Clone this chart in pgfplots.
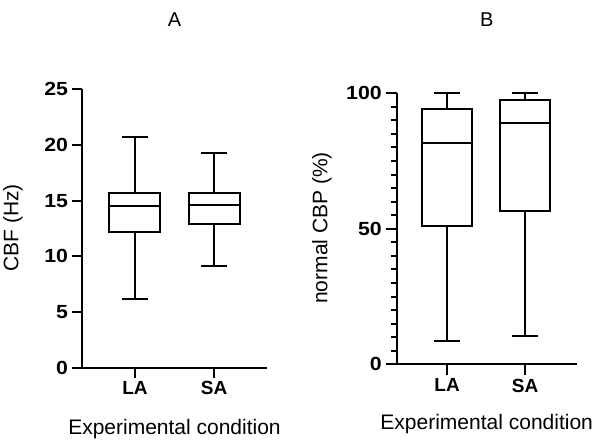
\documentclass[border=0pt]{standalone}
\usepackage{fontspec}
\setmainfont{Liberation Sans}
\usepackage{pgfplots}
\pgfplotsset{compat=1.18}

\pgfplotsset{
  prismbox/.style={
    scale only axis,
    axis x line*=bottom, axis y line*=left,
    axis line style={line width=2pt},
    every tick/.style={black,line width=2pt},
    tick align=outside,
    xtick={1,2}, xticklabels={LA,SA},
    /pgf/number format/assume math mode=true,
    tick label style={font=\bfseries\fontsize{19}{19}\selectfont},
    yticklabel style={xscale=1.12},
    label style={font=\fontsize{21}{21}\selectfont},
    unbounded coords=jump,
    clip=false,
  },
  bx/.style={black,line width=2pt,mark=none,line join=miter},
}

\begin{document}
\begin{tikzpicture}
\path[use as bounding box] (0,0) rectangle (597pt,442pt);

% panel A
\begin{axis}[prismbox,
  at={(82pt,74pt)}, anchor=south west,
  width=185pt, height=279pt,
  xmin=0.33, xmax=2.67, ymin=0, ymax=25,
  ytick={0,5,...,25},
  major tick length=10pt,
  title={A}, title style={at={(axis description cs:0.5,1.204)},anchor=base,
    font=\fontsize{20}{20}\selectfont},
  xlabel={Experimental condition},
  xlabel style={at={(axis description cs:0.5,-0.240)},anchor=base},
  ylabel={CBF (Hz)},
  ylabel style={at={(axis description cs:-0.373,0.502)},anchor=center,rotate=0}]
% LA: whiskers 6.15 / 20.7, box 12.15 / 15.7, median 14.55
\addplot[bx] coordinates {(1,15.7) (1,20.7) (nan,nan) (0.835,20.7) (1.165,20.7)
  (nan,nan) (1,12.15) (1,6.15) (nan,nan) (0.835,6.15) (1.165,6.15)};
\addplot[bx,fill=white] coordinates {(0.6775,12.15) (1.3225,12.15) (1.3225,15.7) (0.6775,15.7)} -- cycle;
\addplot[bx] coordinates {(0.6775,14.55) (1.3225,14.55)};
% SA: whiskers 9.14 / 19.23, box 12.87 / 15.65, median 14.6
\addplot[bx] coordinates {(2,15.65) (2,19.23) (nan,nan) (1.835,19.23) (2.165,19.23)
  (nan,nan) (2,12.87) (2,9.14) (nan,nan) (1.835,9.14) (2.165,9.14)};
\addplot[bx,fill=white] coordinates {(1.6775,12.87) (2.3225,12.87) (2.3225,15.65) (1.6775,15.65)} -- cycle;
\addplot[bx] coordinates {(1.6775,14.6) (2.3225,14.6)};
\end{axis}

% panel B
\begin{axis}[prismbox,
  at={(396.7pt,77.7pt)}, anchor=south west,
  width=180pt, height=271pt,
  xmin=0.355, xmax=2.66, ymin=0, ymax=100,
  ytick={0,50,100}, minor ytick={5,10,...,95},
  major tick length=11pt, minor tick length=6pt,
  title={B}, title style={at={(axis description cs:0.5,1.225)},anchor=base,
    font=\fontsize{20}{20}\selectfont},
  xlabel={Experimental condition},
  xlabel style={at={(axis description cs:0.5,-0.242)},anchor=base},
  ylabel={normal CBP (\%)},
  ylabel style={at={(axis description cs:-0.415,0.503)},anchor=center,rotate=0}]
% LA: whiskers 8.6 / 100, box 51.0 / 94.2, median 81.8
\addplot[bx] coordinates {(1,94.2) (1,100) (nan,nan) (0.835,100) (1.165,100)
  (nan,nan) (1,51.0) (1,8.6) (nan,nan) (0.835,8.6) (1.165,8.6)};
\addplot[bx,fill=white] coordinates {(0.6825,51.0) (1.3175,51.0) (1.3175,94.2) (0.6825,94.2)} -- cycle;
\addplot[bx] coordinates {(0.6825,81.8) (1.3175,81.8)};
% SA: whiskers 10.6 / 100, box 56.6 / 97.5, median 88.9
\addplot[bx] coordinates {(2,97.5) (2,100) (nan,nan) (1.835,100) (2.165,100)
  (nan,nan) (2,56.6) (2,10.6) (nan,nan) (1.835,10.6) (2.165,10.6)};
\addplot[bx,fill=white] coordinates {(1.6825,56.6) (2.3175,56.6) (2.3175,97.5) (1.6825,97.5)} -- cycle;
\addplot[bx] coordinates {(1.6825,88.9) (2.3175,88.9)};
\end{axis}
\end{tikzpicture}
\end{document}
